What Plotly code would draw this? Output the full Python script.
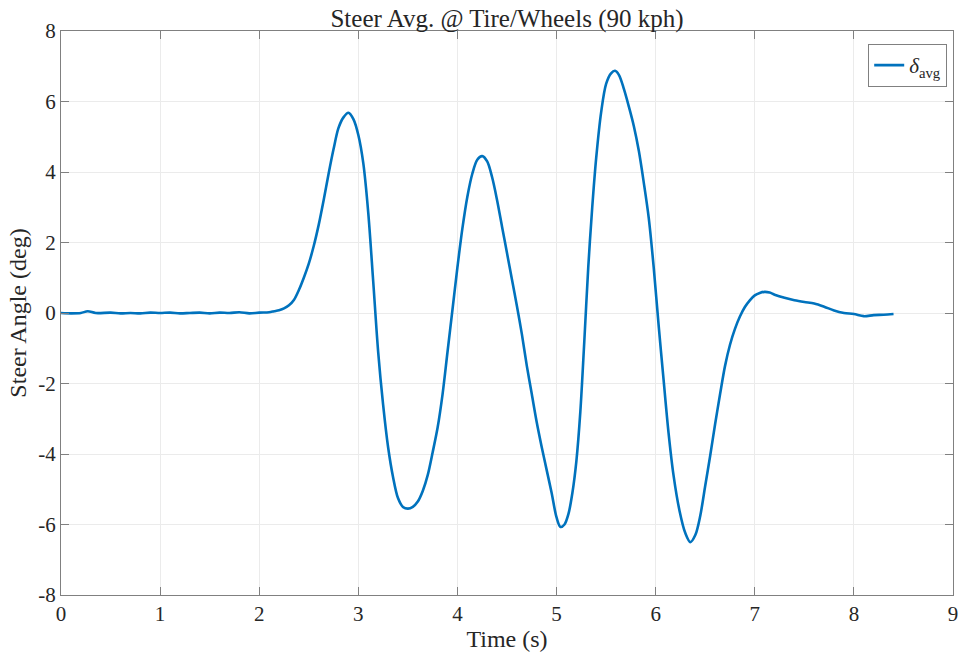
import plotly.graph_objects as go

# Average road-wheel steer angle during the 90 kph manoeuvre
time_s = [0.0, 0.1, 0.2, 0.27, 0.35, 0.5, 0.6, 0.7, 0.8, 0.9, 1.0, 1.1, 1.2, 1.3, 1.4,
          1.5, 1.6, 1.7, 1.8, 1.9, 2.0, 2.1, 2.15, 2.2, 2.25, 2.3, 2.35, 2.4, 2.45, 2.5,
          2.55, 2.6, 2.65, 2.7, 2.75, 2.8, 2.85, 2.9, 2.95, 3.0, 3.05, 3.1, 3.15, 3.2,
          3.25, 3.3, 3.35, 3.4, 3.45, 3.5, 3.55, 3.6, 3.65, 3.7, 3.75, 3.8, 3.85, 3.9,
          3.95, 4.0, 4.05, 4.1, 4.15, 4.2, 4.25, 4.3, 4.35, 4.4, 4.45, 4.5, 4.55, 4.6,
          4.65, 4.7, 4.75, 4.8, 4.85, 4.9, 4.95, 5.0, 5.04, 5.08, 5.12, 5.16, 5.2, 5.24,
          5.28, 5.32, 5.36, 5.4, 5.45, 5.5, 5.55, 5.59, 5.63, 5.68, 5.73, 5.78, 5.83,
          5.88, 5.93, 5.98, 6.03, 6.08, 6.13, 6.18, 6.24, 6.3, 6.35, 6.4, 6.45, 6.5,
          6.55, 6.6, 6.65, 6.7, 6.75, 6.8, 6.85, 6.9, 6.95, 7.0, 7.05, 7.1, 7.15, 7.2,
          7.3, 7.4, 7.5, 7.6, 7.7, 7.8, 7.9, 8.0, 8.1, 8.2, 8.3, 8.4]
steer_deg = [0.0, -0.01, 0.0, 0.05, 0.0, 0.01, -0.01, 0.0, -0.01, 0.01, 0.0, 0.01, -0.01,
             0.0, 0.01, -0.01, 0.01, 0.0, 0.02, -0.01, 0.01, 0.02, 0.05, 0.08, 0.13, 0.22,
             0.37, 0.65, 1.0, 1.4, 1.9, 2.5, 3.2, 3.95, 4.65, 5.25, 5.55, 5.68, 5.5, 5.05,
             4.25, 2.85, 0.9, -1.1, -2.6, -3.8, -4.65, -5.25, -5.5, -5.55, -5.5, -5.35,
             -5.05, -4.6, -3.95, -3.25, -2.3, -1.1, 0.1, 1.3, 2.4, 3.3, 3.95, 4.35, 4.45,
             4.3, 3.85, 3.2, 2.45, 1.7, 0.95, 0.2, -0.6, -1.5, -2.3, -3.1, -3.8, -4.45,
             -5.1, -5.8, -6.07, -6.0, -5.7, -5.1, -4.2, -2.8, -0.8, 1.3, 3.0, 4.4, 5.7,
             6.5, 6.8, 6.87, 6.75, 6.35, 5.85, 5.3, 4.6, 3.7, 2.7, 1.3, -0.35, -1.9, -3.4,
             -4.6, -5.6, -6.25, -6.5, -6.3, -5.75, -4.9, -4.05, -3.15, -2.3, -1.5, -0.9,
             -0.45, -0.1, 0.17, 0.36, 0.5, 0.57, 0.6, 0.58, 0.52, 0.43, 0.36, 0.31, 0.27,
             0.18, 0.07, 0.0, -0.03, -0.09, -0.06, -0.05, -0.03]

x_ticks = [0, 1, 2, 3, 4, 5, 6, 7, 8, 9]
y_ticks = [-8, -6, -4, -2, 0, 2, 4, 6, 8]
y_tick_text = ["-8", "-6", "-4", "-2", "0", "2", "4", "6", "8"]

FONT = "Liberation Serif"
TEXT = "#262626"
AXIS_GREY = "#808080"
GRID_GREY = "#ebebeb"

fig = go.Figure()
fig.add_trace(go.Scatter(
    x=time_s, y=steer_deg, mode="lines",
    line=dict(color="#0072BD", width=2.6, shape="spline", smoothing=0.9),
    name="<i>δ</i><sub>avg</sub>",
))

axis_common = dict(
    showline=True, linecolor=AXIS_GREY, linewidth=1, mirror="ticks",
    ticks="inside", ticklen=8, tickcolor=AXIS_GREY, tickwidth=1,
    showgrid=True, gridcolor=GRID_GREY, gridwidth=1, zeroline=False,
    automargin=False,
    tickfont=dict(family=FONT, size=21, color=TEXT),
)

fig.update_layout(
    width=960, height=657,
    margin=dict(l=61, r=7, t=31, b=62),
    paper_bgcolor="white", plot_bgcolor="white",
    title=dict(text="Steer Avg. @ Tire/Wheels (90 kph)", x=0.5, xref="paper",
               y=1, yref="paper", yanchor="bottom", pad=dict(b=4),
               font=dict(family=FONT, size=25, color=TEXT)),
    xaxis=dict(range=[0, 9], tickvals=x_ticks,
               title=dict(text="Time (s)", standoff=4,
                          font=dict(family=FONT, size=24, color=TEXT)),
               **axis_common),
    yaxis=dict(range=[-8, 8], tickvals=y_ticks, ticktext=y_tick_text,
               title=dict(text="Steer Angle (deg)", standoff=4,
                          font=dict(family=FONT, size=24, color=TEXT)),
               **axis_common),
    showlegend=True,
    legend=dict(x=0.9935, y=0.977, xanchor="right", yanchor="top",
                bgcolor="white", bordercolor=AXIS_GREY, borderwidth=1,
                font=dict(family=FONT, size=21, color=TEXT),
                itemwidth=30, tracegroupgap=0),
)

fig.write_html("out.html")
